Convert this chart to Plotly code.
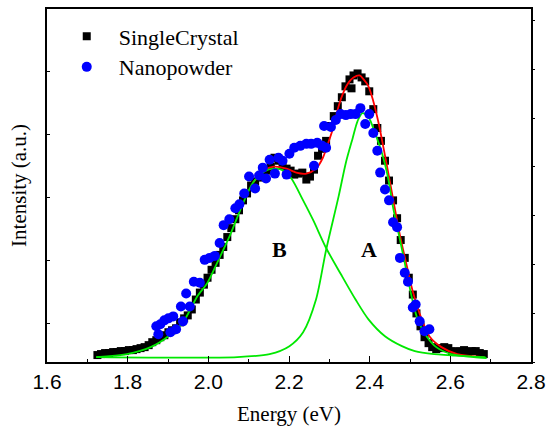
import plotly.graph_objects as go

# ---- SingleCrystal (black squares) ----
sc_x = [1.725, 1.734, 1.744, 1.754, 1.764, 1.773, 1.783, 1.793, 1.803, 1.813,
        1.822, 1.832, 1.842, 1.852, 1.861, 1.871, 1.881, 1.891, 1.901, 1.910,
        1.920, 1.930, 1.940, 1.949, 1.959, 1.969, 1.979, 1.989, 1.998, 2.008,
        2.018, 2.028, 2.037, 2.047, 2.057, 2.067, 2.076, 2.086, 2.096, 2.106,
        2.116, 2.125, 2.135, 2.145, 2.155, 2.164, 2.174, 2.184, 2.194, 2.204,
        2.213, 2.223, 2.233, 2.243, 2.252, 2.262, 2.272, 2.282, 2.292, 2.301,
        2.311, 2.321, 2.331, 2.340, 2.350, 2.360, 2.370, 2.380, 2.389, 2.399,
        2.409, 2.419, 2.428, 2.438, 2.448, 2.458, 2.468, 2.477, 2.487, 2.497,
        2.507, 2.516, 2.526, 2.536, 2.546, 2.555, 2.565, 2.575, 2.585, 2.595,
        2.604, 2.614, 2.624, 2.634, 2.643, 2.653, 2.663, 2.673, 2.683, 2.355]
sc_y = [0.07, 0.08, 0.09, 0.09, 0.10, 0.10, 0.11, 0.11, 0.12, 0.12,
        0.13, 0.14, 0.15, 0.17, 0.20, 0.22, 0.25, 0.27, 0.30, 0.32,
        0.34, 0.40, 0.44, 0.47, 0.53, 0.63, 0.70, 0.78, 0.85, 0.93,
        1.00, 1.08, 1.16, 1.26, 1.35, 1.44, 1.53, 1.63, 1.70, 1.78,
        1.82, 1.86, 1.90, 1.93, 1.97, 2.06, 2.03, 1.98, 1.95, 1.93,
        1.89, 1.90, 1.91, 1.84, 1.87, 1.94, 2.08, 2.15, 2.23, 2.38,
        2.48, 2.58, 2.67, 2.78, 2.85, 2.89, 2.91, 2.87, 2.83, 2.73,
        2.55, 2.36, 2.23, 2.03, 1.83, 1.63, 1.45, 1.23, 1.05, 0.85,
        0.68, 0.49, 0.36, 0.25, 0.19, 0.15, 0.13, 0.14, 0.15, 0.14,
        0.11, 0.10, 0.11, 0.12, 0.10, 0.11, 0.11, 0.09, 0.08, 2.76]

# ---- Nanopowder (blue circles) ----
np_x = [1.871, 1.876, 1.881, 1.891, 1.901, 1.906, 1.913, 1.920, 1.932, 1.937,
        1.945, 1.954, 1.964, 1.979, 1.991, 2.003, 2.016, 2.028, 2.038, 2.052,
        2.067, 2.077, 2.089, 2.101, 2.116, 2.126, 2.135, 2.143, 2.152, 2.165,
        2.174, 2.184, 2.194, 2.201, 2.213, 2.228, 2.243, 2.255, 2.262, 2.270,
        2.282, 2.292, 2.287, 2.304, 2.316, 2.328, 2.341, 2.353, 2.365, 2.377,
        2.389, 2.399, 2.409, 2.419, 2.426, 2.438, 2.448, 2.458, 2.468, 2.475,
        2.487, 2.495, 2.507, 2.514, 2.524, 2.536, 2.548]
np_y = [0.36, 0.28, 0.38, 0.42, 0.44, 0.30, 0.46, 0.33, 0.56, 0.41,
        0.69, 0.56, 0.81, 0.80, 1.03, 1.05, 1.07, 1.20, 1.38, 1.44,
        1.55, 1.59, 1.70, 1.87, 1.75, 1.88, 1.96, 1.85, 2.04, 1.90,
        2.06, 2.03, 1.89, 2.10, 2.16, 2.18, 2.20, 2.20, 1.98, 2.21,
        2.18, 2.16, 2.38, 2.37, 2.44, 2.50, 2.49, 2.50, 2.50, 2.56,
        2.40, 2.50, 2.31, 2.13, 1.91, 1.74, 1.63, 1.41, 1.36, 1.05,
        0.90, 0.81, 0.55, 0.58, 0.41, 0.31, 0.33]

# ---- Fit components ----
fitB_x = [1.722, 1.798, 1.857, 1.901, 1.937, 1.974, 1.998, 2.023, 2.055, 2.084,
          2.111, 2.138, 2.162, 2.187, 2.206, 2.235, 2.260, 2.292, 2.328, 2.365,
          2.397, 2.438, 2.480, 2.512, 2.560, 2.634, 2.687]
fitB_y = [0.05, 0.08, 0.15, 0.26, 0.40, 0.67, 0.80, 1.01, 1.29, 1.58,
          1.81, 1.92, 1.95, 1.93, 1.85, 1.63, 1.43, 1.15, 0.89, 0.63,
          0.43, 0.26, 0.16, 0.11, 0.08, 0.06, 0.05]

fitA_x = [1.722, 2.072, 2.152, 2.201, 2.235, 2.267, 2.292, 2.323, 2.341, 2.358,
          2.370, 2.382, 2.397, 2.414, 2.431, 2.446, 2.458, 2.470, 2.487, 2.504,
          2.519, 2.541, 2.565, 2.602, 2.658, 2.690]
fitA_y = [0.05, 0.05, 0.08, 0.16, 0.30, 0.63, 1.13, 1.67, 2.01, 2.26,
          2.43, 2.51, 2.47, 2.30, 2.10, 1.85, 1.56, 1.33, 1.00, 0.66,
          0.43, 0.26, 0.15, 0.08, 0.05, 0.04]

fitSum_x = [2.111, 2.138, 2.162, 2.194, 2.218, 2.243, 2.267, 2.284, 2.299, 2.311,
            2.323, 2.336, 2.348, 2.360, 2.375, 2.385, 2.397, 2.409, 2.421, 2.431,
            2.446, 2.460, 2.475, 2.492, 2.507, 2.529, 2.548, 2.578, 2.617, 2.683]
fitSum_y = [1.81, 1.93, 1.97, 1.95, 1.91, 1.90, 1.95, 2.06, 2.23, 2.38,
            2.58, 2.73, 2.82, 2.87, 2.89, 2.85, 2.78, 2.63, 2.43, 2.23,
            1.91, 1.60, 1.28, 0.97, 0.71, 0.43, 0.26, 0.15, 0.08, 0.05]

x_ticks = [1.6, 1.8, 2.0, 2.2, 2.4, 2.6, 2.8]
x_tick_text = ["1.6", "1.8", "2.0", "2.2", "2.4", "2.6", "2.8"]

GREEN = "#00e800"
RED = "#ff0000"
SERIF = "Liberation Serif, Times New Roman, serif"
SANS = "Liberation Sans, Arial, sans-serif"

fig = go.Figure()
fig.add_trace(go.Scatter(x=sc_x, y=sc_y, mode="markers", name="SingleCrystal",
                         marker=dict(symbol="square", size=8, color="black"),
                         legend="legend"))
fig.add_trace(go.Scatter(x=fitSum_x, y=fitSum_y, mode="lines", showlegend=False,
                         line=dict(color=RED, width=1.8, shape="spline", smoothing=0.8),
                         yaxis="y2", hoverinfo="skip"))
fig.add_trace(go.Scatter(x=fitB_x, y=fitB_y, mode="lines", showlegend=False,
                         line=dict(color=GREEN, width=1.8, shape="spline", smoothing=0.8),
                         yaxis="y2", hoverinfo="skip"))
fig.add_trace(go.Scatter(x=fitA_x, y=fitA_y, mode="lines", showlegend=False,
                         line=dict(color=GREEN, width=1.8, shape="spline", smoothing=0.8),
                         yaxis="y2", hoverinfo="skip"))
fig.add_trace(go.Scatter(x=np_x, y=np_y, mode="markers", name="Nanopowder",
                         marker=dict(symbol="circle", size=10, color="#0000ff"),
                         yaxis="y2", legend="legend2"))

fig.add_annotation(x=2.177, y=1.13, xref="x", yref="y", text="<b>B</b>",
                   showarrow=False, font=dict(family=SERIF, size=22, color="black"))
fig.add_annotation(x=2.399, y=1.13, xref="x", yref="y", text="<b>A</b>",
                   showarrow=False, font=dict(family=SERIF, size=22, color="black"))
# y-axis title
fig.add_annotation(x=-0.059, y=0.5, xref="paper", yref="paper", text="Intensity (a.u.)",
                   textangle=-90, showarrow=False, xanchor="center", yanchor="middle",
                   font=dict(family=SERIF, size=21, color="black"))

legend_style = dict(xanchor="left", yanchor="top",
                    font=dict(family=SERIF, size=22, color="black"),
                    bgcolor="rgba(0,0,0,0)", borderwidth=0, itemwidth=54)

fig.update_layout(
    width=553, height=432,
    margin=dict(l=47, r=15, t=7, b=70),
    paper_bgcolor="white", plot_bgcolor="white",
    showlegend=True,
    legend=dict(x=0.016, y=0.982, **legend_style),
    legend2=dict(x=0.016, y=0.895, **legend_style),
    xaxis=dict(range=[1.6, 2.8], tickvals=x_ticks, ticktext=x_tick_text,
               ticks="inside", ticklen=6, tickwidth=1, tickcolor="black",
               minor=dict(dtick=0.1, tick0=1.6, ticks="inside", ticklen=3, tickcolor="black"),
               showline=True, linecolor="black", linewidth=1.5, mirror=True,
               showgrid=False, zeroline=False,
               tickfont=dict(family=SANS, size=21, color="black"),
               title=dict(text="Energy (eV)", font=dict(family=SERIF, size=21, color="black"),
                          standoff=14)),
    yaxis=dict(range=[0, 3.56], tick0=0.39, dtick=0.635, ticks="inside", ticklen=3,
               tickcolor="black", showticklabels=False,
               showline=True, linecolor="black", linewidth=1.5,
               showgrid=False, zeroline=False),
    yaxis2=dict(range=[0, 3.56], tick0=0, dtick=0.492, ticks="outside", ticklen=2,
                tickcolor="black", showticklabels=False, overlaying="y", side="right",
                showline=True, linecolor="black", linewidth=1.5,
                showgrid=False, zeroline=False),
)

fig.write_html("out.html", config={"displayModeBar": False},
               post_script="document.body.style.margin='0';")
